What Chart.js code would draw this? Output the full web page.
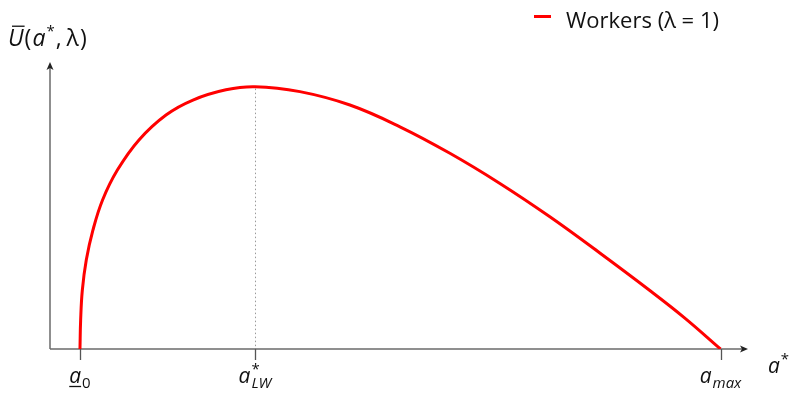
<!DOCTYPE html>
<html>
<head>
<meta charset="utf-8">
<script src="https://cdn.jsdelivr.net/npm/chart.js@4/dist/chart.umd.min.js"></script>
<style>
  html, body { margin: 0; padding: 0; background: #fff; }
  #wrap { width: 789px; height: 394px; }
</style>
</head>
<body>
<div id="wrap"><canvas id="c"></canvas></div>
<script>
// Effort level a* (horizontal) and average utility U(a*, λ) (vertical)
const effort  = [0.447, 0.457, 0.482, 0.541, 0.640, 0.784, 1.005, 1.327, 1.730, 2.132, 2.624,
                 3.057, 3.727, 4.473, 5.219, 5.964, 6.710, 7.455, 8.200, 8.946, 9.468, 10.0];
const utility = [0.000, 0.110, 0.224, 0.339, 0.453, 0.568, 0.682, 0.797, 0.892, 0.949, 0.988,
                 1.000, 0.981, 0.930, 0.847, 0.746, 0.631, 0.504, 0.366, 0.223, 0.118, 0.000];

// Marked points on the effort axis: lower bound, optimum for workers, maximum
const tickValues = [0.447, 3.057, 10.0];
const tickLabels = ['a_0', 'a^*_LW', 'a_max'];
const tickUnderlined = [true, false, false];
const optimumEffort = 3.057;

const seriesName = 'Workers (λ = 1)';

const FAMILY = '"Open Sans", Lato, sans-serif';
const AXIS_COLOR = '#6b6b6b';

function font(size, italic) {
  return (italic ? 'italic ' : '') + size + 'px ' + FAMILY;
}

// Draws a run of text pieces {t, size, italic, dy, stack, over, under, gap}
function drawRun(ctx, pieces, x, baseline, align) {
  const widths = pieces.map(p => {
    ctx.font = font(p.size, p.italic);
    return ctx.measureText(p.t).width + (p.gap || 0);
  });
  let total = 0, last = 0;
  pieces.forEach((p, i) => {
    if (p.stack) { total += Math.max(0, widths[i] - last); last = Math.max(last, widths[i]); }
    else { total += widths[i]; last = widths[i]; }
  });
  let cx = align === 'center' ? x - total / 2 : x;
  let startPrev = cx;
  pieces.forEach((p, i) => {
    ctx.font = font(p.size, p.italic);
    const px = p.stack ? startPrev : cx;
    if (!p.stack) startPrev = cx;
    ctx.fillText(p.t, px, baseline + (p.dy || 0));
    const w = widths[i] - (p.gap || 0);
    ctx.save();
    ctx.lineWidth = 1.3;
    if (p.over) {
      ctx.beginPath();
      ctx.moveTo(px + 4, baseline - p.size * 0.86);
      ctx.lineTo(px + w + 1, baseline - p.size * 0.86);
      ctx.stroke();
    }
    if (p.under) {
      ctx.beginPath();
      ctx.moveTo(px, baseline + 3.5);
      ctx.lineTo(px + w, baseline + 3.5);
      ctx.stroke();
    }
    ctx.restore();
    cx = p.stack ? Math.max(cx, px + widths[i]) : px + widths[i];
  });
}

// Turns 'a^*_LW' style labels into text pieces
function parseLabel(str, underline, size) {
  const m = str.match(/^([^_^]+)(?:\^([^_]+))?(?:_(.+))?$/);
  const small = Math.round(size * 0.7);
  const pieces = [{ t: m[1], size, italic: true, under: underline, gap: 1 }];
  if (m[2]) pieces.push({ t: m[2], size: small, italic: false, dy: -size * 0.45 });
  if (m[3]) pieces.push({ t: m[3], size: small, italic: !/^\d+$/.test(m[3]), dy: size * 0.22, stack: !!m[2] });
  return pieces;
}

const axesPlugin = {
  id: 'axesWithArrows',
  beforeDatasetsDraw(chart) {
    const { ctx, chartArea: a, scales: { x, y } } = chart;
    const y0 = y.getPixelForValue(0);
    ctx.save();
    // dotted guide at the optimum
    const xo = Math.round(x.getPixelForValue(optimumEffort)) + 0.5;
    const peak = Math.max(...utility);
    ctx.strokeStyle = '#9a9a9a';
    ctx.lineWidth = 1;
    ctx.setLineDash([1.5, 2.5]);
    ctx.beginPath();
    ctx.moveTo(xo, y.getPixelForValue(peak) + 2);
    ctx.lineTo(xo, y0);
    ctx.stroke();
    ctx.setLineDash([]);

    // axes
    ctx.strokeStyle = AXIS_COLOR;
    ctx.fillStyle = '#222';
    ctx.lineWidth = 1.5;
    ctx.beginPath();
    ctx.moveTo(a.left, y0);
    ctx.lineTo(a.right - 4, y0);
    ctx.moveTo(a.left, y0);
    ctx.lineTo(a.left, a.top + 4);
    ctx.stroke();
    // arrow heads
    ctx.beginPath();
    ctx.moveTo(a.right, y0);
    ctx.lineTo(a.right - 8, y0 - 3.5);
    ctx.lineTo(a.right - 6, y0);
    ctx.lineTo(a.right - 8, y0 + 3.5);
    ctx.closePath();
    ctx.fill();
    ctx.beginPath();
    ctx.moveTo(a.left, a.top);
    ctx.lineTo(a.left - 3.5, a.top + 8);
    ctx.lineTo(a.left, a.top + 6);
    ctx.lineTo(a.left + 3.5, a.top + 8);
    ctx.closePath();
    ctx.fill();

    // tick marks
    ctx.strokeStyle = '#555';
    ctx.lineWidth = 1.3;
    tickValues.forEach(v => {
      const px = Math.round(x.getPixelForValue(v)) + 0.5;
      ctx.beginPath();
      ctx.moveTo(px, y0);
      ctx.lineTo(px, y0 + 11);
      ctx.stroke();
    });
    ctx.restore();
  },
  afterDraw(chart) {
    const { ctx, chartArea: a, scales: { x, y } } = chart;
    const y0 = y.getPixelForValue(0);
    ctx.save();
    ctx.fillStyle = '#111';
    ctx.strokeStyle = '#111';
    ctx.textBaseline = 'alphabetic';
    ctx.textAlign = 'left';

    // tick labels
    tickLabels.forEach((lab, i) => {
      const px = x.getPixelForValue(tickValues[i]);
      drawRun(ctx, parseLabel(lab, tickUnderlined[i], 21), px, y0 + 34, 'center');
    });

    // axis titles
    drawRun(ctx, [
      { t: 'a', size: 21, italic: true, gap: 1 },
      { t: '*', size: 15, italic: false, dy: -9 }
    ], a.right + 20, y0 + 24, 'left');

    drawRun(ctx, [
      { t: 'U', size: 23, italic: true, over: true, gap: 1 },
      { t: '(', size: 23, italic: false, gap: 1 },
      { t: 'a', size: 23, italic: true, gap: 1 },
      { t: '*', size: 15, italic: false, dy: -10, gap: 1 },
      { t: ',', size: 23, italic: false, gap: 5 },
      { t: 'λ', size: 23, italic: false, gap: 1 },
      { t: ')', size: 23, italic: false }
    ], 8, 46, 'left');

    // legend
    const ds = chart.data.datasets[0];
    ctx.strokeStyle = ds.borderColor;
    ctx.lineWidth = 3;
    ctx.beginPath();
    ctx.moveTo(534, 16.5);
    ctx.lineTo(551, 16.5);
    ctx.stroke();
    ctx.fillStyle = '#111';
    ctx.font = font(22, false);
    ctx.fillText(ds.label, 566, 28);
    ctx.restore();
  }
};

new Chart(document.getElementById('c'), {
  type: 'line',
  data: {
    datasets: [{
      label: seriesName,
      data: effort.map((v, i) => ({ x: v, y: utility[i] })),
      borderColor: '#ff0000',
      borderWidth: 3,
      pointRadius: 0,
      fill: false,
      tension: 0.4
    }]
  },
  options: {
    responsive: true,
    maintainAspectRatio: false,
    animation: false,
    layout: { padding: { left: 50, right: 41, top: 62, bottom: 45 } },
    plugins: { legend: { display: false }, tooltip: { enabled: false } },
    scales: {
      x: { type: 'linear', min: 0, max: 10.41, display: false },
      y: { type: 'linear', min: 0, max: 1.094, display: false }
    }
  },
  plugins: [axesPlugin]
});
</script>
</body>
</html>
